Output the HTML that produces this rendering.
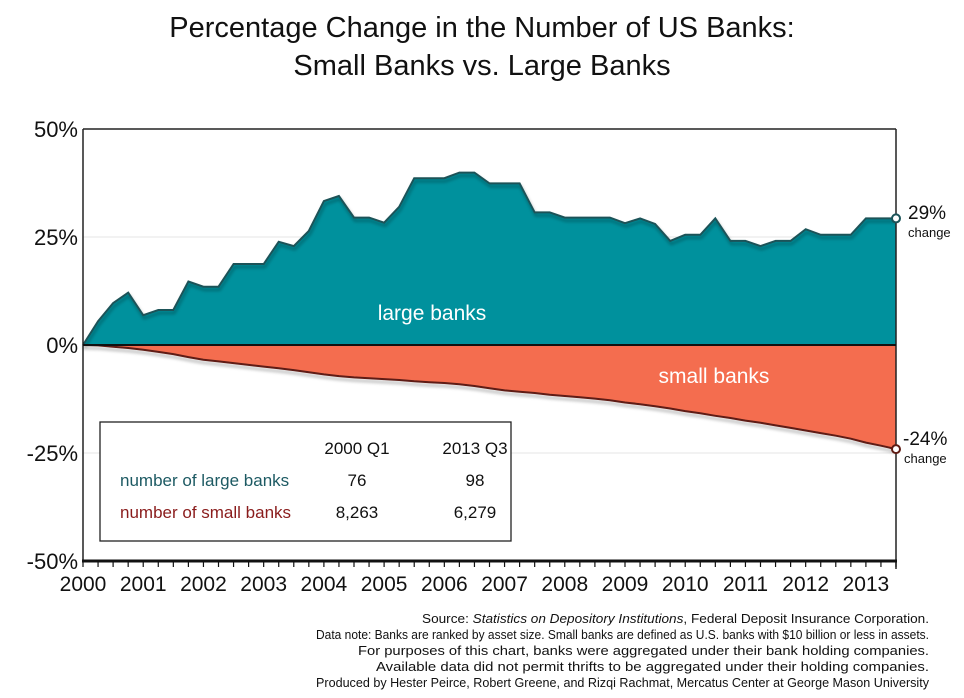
<!DOCTYPE html>
<html><head><meta charset="utf-8"><style>
html,body{margin:0;padding:0;background:#fff;}
svg{display:block;font-family:"Liberation Sans",sans-serif;}
</style></head><body>
<svg id="chart" width="964" height="698" viewBox="0 0 964 698">
<defs>
<filter id="sh" x="-5%" y="-5%" width="110%" height="120%"><feDropShadow dx="1" dy="3" stdDeviation="1.5" flood-color="#000" flood-opacity="0.35"/></filter>
</defs>
<g font-size="29" fill="#111" text-anchor="middle">
<text x="482" y="37">Percentage Change in the Number of US Banks:</text>
<text x="482" y="75">Small Banks vs. Large Banks</text>
</g>
<g id="plot"></g>
<g>
<rect x="100" y="422" width="411" height="119" fill="#fff" stroke="#222" stroke-width="1.3"/>
<text x="357" y="454" font-size="17" text-anchor="middle" fill="#111">2000 Q1</text>
<text x="475" y="454" font-size="17" text-anchor="middle" fill="#111">2013 Q3</text>
<text x="120" y="486" font-size="17" fill="#1d5a63">number of large banks</text>
<text x="357" y="486" font-size="17" text-anchor="middle" fill="#111">76</text>
<text x="475" y="486" font-size="17" text-anchor="middle" fill="#111">98</text>
<text x="120" y="518" font-size="17" fill="#8a1c1c">number of small banks</text>
<text x="357" y="518" font-size="17" text-anchor="middle" fill="#111">8,263</text>
<text x="475" y="518" font-size="17" text-anchor="middle" fill="#111">6,279</text>
</g>
<g fill="#111">
<text x="908" y="219" font-size="19">29%</text>
<text x="908" y="237" font-size="13">change</text>
<text x="903" y="445" font-size="19">-24%</text>
<text x="904" y="463" font-size="13">change</text>
</g>
<g font-size="13" fill="#111" text-anchor="end">
<text x="929" y="623" textLength="507" lengthAdjust="spacingAndGlyphs">Source: <tspan font-style="italic">Statistics on Depository Institutions</tspan>, Federal Deposit Insurance Corporation.</text>
<text x="929" y="639" textLength="613" lengthAdjust="spacingAndGlyphs">Data note: Banks are ranked by asset size. Small banks are defined as U.S. banks with $10 billion or less in assets.</text>
<text x="929" y="655" textLength="571" lengthAdjust="spacingAndGlyphs">For purposes of this chart, banks were aggregated under their bank holding companies.</text>
<text x="929" y="671" textLength="553" lengthAdjust="spacingAndGlyphs">Available data did not permit thrifts to be aggregated under their holding companies.</text>
<text x="929" y="687" textLength="613" lengthAdjust="spacingAndGlyphs">Produced by Hester Peirce, Robert Greene, and Rizqi Rachmat, Mercatus Center at George Mason University</text>
</g>
</svg>
<script>
const large = [0,5.5,9.7,12.1,6.9,8.1,8.1,14.7,13.5,13.5,18.75,18.75,18.75,23.9,22.9,26.4,33.3,34.5,29.5,29.5,28.3,32,38.6,38.6,38.6,39.9,39.9,37.4,37.4,37.4,30.7,30.7,29.5,29.5,29.5,29.5,28.2,29.3,28,24.1,25.5,25.5,29.3,24.1,24.1,22.9,24.1,24.1,26.8,25.5,25.5,25.5,29.3,29.3,29.3];
const small = [0,-0.1,-0.4,-0.7,-1.1,-1.6,-2.1,-2.8,-3.4,-3.8,-4.2,-4.6,-5.0,-5.4,-5.8,-6.3,-6.8,-7.2,-7.5,-7.7,-7.9,-8.1,-8.4,-8.6,-8.8,-9.1,-9.5,-10.0,-10.5,-10.8,-11.1,-11.5,-11.8,-12.1,-12.4,-12.8,-13.3,-13.7,-14.2,-14.7,-15.3,-15.8,-16.4,-16.9,-17.5,-18.0,-18.6,-19.2,-19.8,-20.4,-21.0,-21.7,-22.6,-23.3,-24.1];
const yTicks = [50,25,0,-25,-50];
const yTickLabels = ["50%","25%","0%","-25%","-50%"];
const years = ["2000","2001","2002","2003","2004","2005","2006","2007","2008","2009","2010","2011","2012","2013"];

const NS="http://www.w3.org/2000/svg";
const X0=83, X1=896, Y0=345, PPU=4.32;
const nQ = large.length;
const xq = q => X0 + q*(X1-X0)/(nQ-1);
const yv = v => Y0 - v*PPU;
const g = document.getElementById('plot');
function mk(tag, attrs, parent){const e=document.createElementNS(NS,tag);for(const k in attrs)e.setAttribute(k,attrs[k]);(parent||g).appendChild(e);return e;}

yTicks.forEach((t,i)=>{
  if(t===25||t===-25){
    const gl=mk('line',{x1:X0,x2:X1,y1:yv(t),y2:yv(t),stroke:'#e6e6e6','stroke-width':1});
    
    
  }
  const tl=mk('text',{x:78,y:yv(t)+8,'font-size':22,'text-anchor':'end',fill:'#111'});
  tl.textContent=yTickLabels[i];
  
  
});

function areaPath(arr){
  let d='M'+xq(0)+','+Y0;
  arr.forEach((v,i)=>{d+=' L'+xq(i).toFixed(1)+','+yv(v).toFixed(1);});
  d+=' L'+xq(arr.length-1)+','+Y0+' Z';return d;
}
function linePath(arr){return arr.map((v,i)=>(i?'L':'M')+xq(i).toFixed(1)+','+yv(v).toFixed(1)).join(' ');}

const la=mk('path',{d:areaPath(large),fill:'#00919d'});


const sa=mk('path',{d:areaPath(small),fill:'#f46d4f'});


const ll=mk('path',{d:linePath(large),fill:'none',stroke:'#1b5358','stroke-width':2,filter:'url(#sh)'});


const sl=mk('path',{d:linePath(small),fill:'none',stroke:'#5e1a12','stroke-width':2,filter:'url(#sh)'});



const t1=mk('text',{x:432,y:320,'font-size':21,fill:'#fff','text-anchor':'middle'});
t1.textContent='large banks';


const t2=mk('text',{x:714,y:383,'font-size':21,fill:'#fff','text-anchor':'middle'});
t2.textContent='small banks';



const fr=mk('path',{d:'M'+X0+','+yv(50)+' L'+X1+','+yv(50)+' M'+X1+','+yv(50)+' L'+X1+','+(yv(-50)+8)+' M'+X0+','+yv(50)+' L'+X0+','+yv(-50),fill:'none',stroke:'#222','stroke-width':1.5});


const zl=mk('line',{x1:X0,x2:X1,y1:Y0,y2:Y0,stroke:'#111','stroke-width':2});


const xa=mk('line',{x1:X0-1,x2:X1+1,y1:yv(-50),y2:yv(-50),stroke:'#111','stroke-width':3});


for(let q=0;q<nQ;q++){
  const tk=mk('line',{x1:xq(q),x2:xq(q),y1:yv(-50),y2:yv(-50)+6,stroke:'#111','stroke-width':1.2});
  
  
}
years.forEach((yr,i)=>{
  const t=mk('text',{x:xq(i*4),y:591,'font-size':21,'text-anchor':'middle',fill:'#111'});
  t.textContent=yr;
  
  
});
const e1=mk('circle',{cx:xq(nQ-1),cy:yv(large[nQ-1]),r:4,fill:'#fff',stroke:'#1b5358','stroke-width':2});


const e2=mk('circle',{cx:xq(nQ-1),cy:yv(small[nQ-1]),r:4,fill:'#fff',stroke:'#5e1a12','stroke-width':2});


</script>
</body></html>
